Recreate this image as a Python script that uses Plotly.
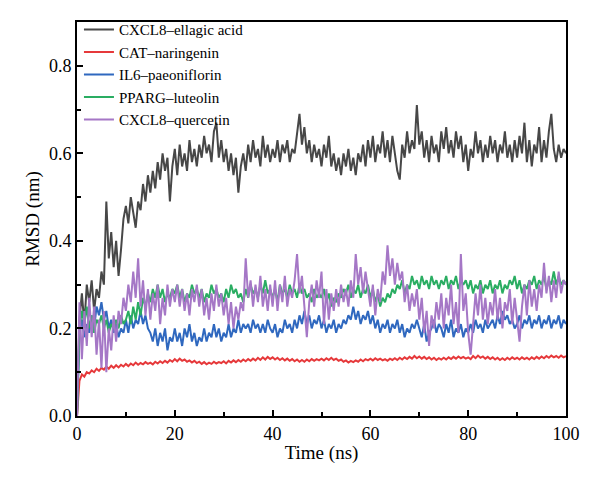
import plotly.graph_objects as go

# Time axis (ns), sampled every 0.5 ns
time_ns = [i * 0.5 for i in range(201)]

cxcl8_ellagic = [
    0.0, 0.22, 0.28, 0.21, 0.30, 0.26, 0.31, 0.24, 0.29, 0.27,
    0.33, 0.30, 0.49, 0.36, 0.42, 0.34, 0.40, 0.32, 0.38, 0.45,
    0.48, 0.44, 0.50, 0.46, 0.43, 0.49, 0.47, 0.53, 0.49, 0.55,
    0.51, 0.56, 0.52, 0.58, 0.54, 0.60, 0.56, 0.59, 0.49, 0.57,
    0.61, 0.55, 0.62, 0.57, 0.60, 0.56, 0.63, 0.58, 0.61, 0.57,
    0.62, 0.59, 0.64, 0.60, 0.62, 0.58, 0.65, 0.67, 0.59, 0.63,
    0.58, 0.61, 0.56, 0.60, 0.55, 0.59, 0.51, 0.57, 0.60, 0.56,
    0.62, 0.58, 0.63, 0.59, 0.61, 0.57, 0.64, 0.59, 0.62, 0.58,
    0.61, 0.59, 0.63, 0.58, 0.62, 0.60, 0.63, 0.58, 0.61, 0.60,
    0.64, 0.69, 0.62, 0.66, 0.60, 0.63, 0.58, 0.62, 0.59, 0.61,
    0.57, 0.62, 0.59, 0.64, 0.57, 0.60, 0.56, 0.59, 0.55, 0.60,
    0.57, 0.61, 0.56, 0.59, 0.55, 0.60, 0.58, 0.62, 0.57, 0.63,
    0.59, 0.64, 0.58, 0.62, 0.60, 0.65, 0.59, 0.63, 0.58, 0.64,
    0.60, 0.56, 0.54, 0.62, 0.59, 0.65, 0.60, 0.63, 0.61, 0.71,
    0.62, 0.65, 0.59, 0.63, 0.58, 0.64, 0.60, 0.62, 0.58, 0.65,
    0.61, 0.66, 0.60, 0.63, 0.59, 0.65, 0.61, 0.64, 0.58, 0.62,
    0.56, 0.61, 0.59, 0.65, 0.60, 0.63, 0.58, 0.62, 0.59, 0.64,
    0.60, 0.63, 0.58, 0.62, 0.60, 0.65, 0.59, 0.62, 0.58, 0.63,
    0.59, 0.64, 0.60, 0.67, 0.58, 0.63, 0.57, 0.62, 0.60, 0.66,
    0.58, 0.63, 0.59, 0.65, 0.69, 0.61, 0.58, 0.62, 0.59, 0.61,
    0.60,
]

cat_naringenin = [
    0.0, 0.08, 0.095, 0.09, 0.10, 0.097, 0.104, 0.10, 0.108, 0.103,
    0.11, 0.106, 0.113, 0.108, 0.115, 0.11, 0.116, 0.111, 0.117, 0.113,
    0.119, 0.114, 0.12, 0.116, 0.122, 0.117, 0.121, 0.118, 0.123, 0.119,
    0.122, 0.118, 0.124, 0.12, 0.125, 0.121, 0.126, 0.122, 0.128, 0.124,
    0.13, 0.125, 0.131, 0.126, 0.129, 0.124, 0.127, 0.122, 0.126, 0.121,
    0.124, 0.119, 0.123, 0.118, 0.122, 0.119, 0.124, 0.12, 0.123, 0.121,
    0.125, 0.12, 0.126, 0.122, 0.127, 0.123, 0.128, 0.124, 0.129, 0.125,
    0.13, 0.126, 0.131, 0.127, 0.133, 0.128, 0.134, 0.129, 0.135, 0.13,
    0.134, 0.129, 0.133, 0.128, 0.132, 0.127, 0.131, 0.126, 0.13, 0.125,
    0.129, 0.124, 0.128, 0.124, 0.129, 0.125, 0.13, 0.126, 0.13, 0.127,
    0.131, 0.127, 0.132, 0.128, 0.133, 0.128, 0.131, 0.126, 0.129, 0.124,
    0.127, 0.122, 0.126, 0.123, 0.127, 0.124, 0.129, 0.125, 0.13, 0.127,
    0.131, 0.127, 0.132, 0.128, 0.131, 0.127, 0.13, 0.126, 0.131, 0.128,
    0.132, 0.128, 0.133, 0.129, 0.134, 0.13, 0.135, 0.131, 0.137, 0.132,
    0.136, 0.131, 0.135, 0.13, 0.134, 0.129, 0.133, 0.128, 0.132, 0.129,
    0.133, 0.129, 0.134, 0.13, 0.135, 0.131, 0.136, 0.132, 0.135, 0.131,
    0.134, 0.13, 0.137, 0.132, 0.138, 0.133, 0.136, 0.131, 0.135, 0.13,
    0.134, 0.129, 0.133, 0.128, 0.132, 0.128, 0.133, 0.129, 0.134, 0.13,
    0.133, 0.129, 0.134, 0.13, 0.133, 0.129, 0.134, 0.13, 0.135, 0.131,
    0.136, 0.132, 0.137, 0.133, 0.138, 0.134, 0.137, 0.133, 0.138, 0.134,
    0.137,
]

il6_paeoniflorin = [
    0.0, 0.19, 0.22, 0.18, 0.21, 0.19, 0.23, 0.2, 0.25, 0.23,
    0.26, 0.22, 0.24, 0.2, 0.22, 0.19, 0.21, 0.18, 0.2, 0.19,
    0.22, 0.19, 0.23, 0.2, 0.22, 0.21, 0.24, 0.21, 0.23, 0.2,
    0.19, 0.17, 0.2, 0.16, 0.19, 0.17, 0.2, 0.15, 0.18, 0.17,
    0.2, 0.17, 0.19, 0.16, 0.2, 0.18, 0.21, 0.17, 0.19, 0.16,
    0.18, 0.17, 0.2, 0.17, 0.19, 0.18, 0.21, 0.18, 0.2, 0.17,
    0.19, 0.18, 0.21, 0.18, 0.2, 0.19, 0.22, 0.19, 0.21, 0.2,
    0.21, 0.19, 0.22, 0.2, 0.21, 0.19, 0.21, 0.19, 0.22, 0.2,
    0.19, 0.21, 0.18, 0.2, 0.19, 0.22, 0.2, 0.21, 0.19, 0.22,
    0.2, 0.23, 0.21, 0.24, 0.21, 0.23, 0.2, 0.22, 0.21, 0.23,
    0.2, 0.22, 0.19, 0.21, 0.2, 0.22, 0.19, 0.21, 0.2, 0.22,
    0.21, 0.23, 0.22, 0.25, 0.22, 0.24, 0.21, 0.23, 0.22, 0.24,
    0.21, 0.23, 0.2, 0.22, 0.19, 0.21, 0.2, 0.22, 0.19, 0.21,
    0.2, 0.22, 0.19, 0.21, 0.18, 0.2, 0.19, 0.21, 0.2, 0.22,
    0.2, 0.18, 0.21, 0.17, 0.19, 0.2, 0.22, 0.19, 0.21, 0.2,
    0.18, 0.21, 0.19, 0.22, 0.18, 0.2, 0.19, 0.21, 0.18, 0.2,
    0.19, 0.21, 0.19, 0.22, 0.2, 0.21, 0.19, 0.22, 0.2, 0.21,
    0.22, 0.2, 0.23, 0.21, 0.24, 0.22, 0.23, 0.21, 0.22, 0.2,
    0.21, 0.23, 0.2, 0.22, 0.21, 0.23, 0.2, 0.22, 0.21, 0.23,
    0.2, 0.22, 0.21, 0.23, 0.2, 0.22, 0.21, 0.23, 0.2, 0.22,
    0.21,
]

pparg_luteolin = [
    0.0, 0.2, 0.24, 0.21, 0.25, 0.2, 0.23, 0.19, 0.22, 0.21,
    0.23, 0.2, 0.22, 0.19, 0.21, 0.2, 0.22, 0.2, 0.23, 0.21,
    0.22, 0.24, 0.21, 0.25, 0.22, 0.26, 0.23, 0.27, 0.25, 0.28,
    0.26, 0.29, 0.27, 0.3, 0.27, 0.29, 0.26, 0.28, 0.27, 0.29,
    0.28, 0.3, 0.27, 0.29, 0.26, 0.28, 0.27, 0.3, 0.28, 0.29,
    0.27, 0.29, 0.26, 0.28, 0.27, 0.3, 0.28, 0.29, 0.27, 0.28,
    0.26, 0.29, 0.27, 0.3, 0.28, 0.29, 0.27, 0.28, 0.26, 0.29,
    0.27, 0.3, 0.28, 0.29, 0.27, 0.3, 0.28, 0.31, 0.28, 0.29,
    0.27, 0.29, 0.26, 0.3, 0.28, 0.29, 0.27, 0.3, 0.28, 0.29,
    0.27, 0.3, 0.28, 0.29, 0.27, 0.28, 0.26, 0.29, 0.27, 0.28,
    0.27, 0.29, 0.26, 0.28, 0.25, 0.27, 0.26, 0.28, 0.27, 0.29,
    0.28, 0.3, 0.27, 0.29, 0.28, 0.3, 0.27, 0.29, 0.28, 0.3,
    0.27, 0.29, 0.26, 0.28, 0.25, 0.27, 0.26, 0.28, 0.27, 0.29,
    0.28, 0.3, 0.29, 0.31, 0.28, 0.3, 0.29, 0.32, 0.3, 0.31,
    0.29, 0.32, 0.3, 0.31, 0.29, 0.32, 0.3, 0.31, 0.29, 0.31,
    0.3, 0.32, 0.29, 0.31, 0.3, 0.32, 0.29, 0.31, 0.3, 0.31,
    0.29, 0.31, 0.28, 0.3, 0.29, 0.31, 0.28, 0.3, 0.29, 0.31,
    0.28, 0.3, 0.29, 0.31, 0.28, 0.3, 0.29, 0.31, 0.3, 0.32,
    0.29, 0.31, 0.28, 0.3, 0.29, 0.31, 0.3, 0.32, 0.29, 0.31,
    0.3, 0.32, 0.29, 0.31, 0.3, 0.33, 0.3, 0.32, 0.3, 0.31,
    0.3,
]

cxcl8_quercetin = [
    0.0, 0.26, 0.13, 0.24, 0.16, 0.27, 0.18, 0.25, 0.14, 0.22,
    0.11, 0.24, 0.1, 0.2, 0.15, 0.23, 0.17, 0.24, 0.21, 0.27,
    0.24, 0.3, 0.26, 0.33, 0.27, 0.36, 0.25, 0.31, 0.23, 0.29,
    0.22, 0.28, 0.24, 0.3, 0.21, 0.27, 0.23, 0.3, 0.25, 0.29,
    0.26, 0.3, 0.25, 0.29, 0.24, 0.28, 0.23, 0.29, 0.26, 0.3,
    0.25, 0.29, 0.23, 0.27, 0.22, 0.28, 0.24, 0.3, 0.25, 0.28,
    0.23, 0.27, 0.21, 0.26, 0.2, 0.25, 0.22, 0.26, 0.24, 0.36,
    0.27, 0.31, 0.25, 0.3, 0.26, 0.32, 0.25, 0.29, 0.24, 0.3,
    0.25, 0.31, 0.24, 0.3, 0.26, 0.32, 0.25, 0.29, 0.27, 0.31,
    0.37, 0.28, 0.32, 0.24, 0.18, 0.26, 0.3, 0.25, 0.31, 0.27,
    0.33, 0.21, 0.29, 0.22, 0.28, 0.24, 0.29, 0.25, 0.3, 0.26,
    0.29, 0.25, 0.31, 0.27, 0.37, 0.3, 0.34, 0.28, 0.33, 0.29,
    0.25, 0.3, 0.23, 0.29, 0.26, 0.33, 0.3, 0.39, 0.32, 0.36,
    0.3, 0.35, 0.31, 0.33, 0.26, 0.3, 0.24, 0.28, 0.25, 0.29,
    0.22, 0.27, 0.19, 0.24, 0.16, 0.23, 0.2, 0.26, 0.22, 0.28,
    0.2, 0.27, 0.23, 0.3, 0.21, 0.26, 0.19, 0.37, 0.24, 0.28,
    0.19, 0.14, 0.22, 0.28, 0.23, 0.3, 0.22, 0.27, 0.21, 0.26,
    0.23, 0.29, 0.22, 0.27, 0.2, 0.26, 0.24, 0.29, 0.21, 0.27,
    0.22, 0.17, 0.25, 0.3, 0.23, 0.31, 0.25, 0.29, 0.24, 0.3,
    0.27, 0.35, 0.28, 0.32, 0.26, 0.31, 0.27, 0.33, 0.28, 0.31,
    0.3,
]

series_names = ["CXCL8–ellagic acid", "CAT–naringenin", "IL6–paeoniflorin",
                "PPARG–luteolin", "CXCL8–quercetin"]
series_values = [cxcl8_ellagic, cat_naringenin, il6_paeoniflorin,
                 pparg_luteolin, cxcl8_quercetin]
series_colors = ["#474747", "#e6393b", "#2f68bf", "#2aad62", "#a577c6"]

x_tick_vals = [0, 20, 40, 60, 80, 100]
y_tick_vals = [0.0, 0.2, 0.4, 0.6, 0.8]

FONT = "Liberation Serif"

fig = go.Figure()
for name, vals, col in zip(series_names, series_values, series_colors):
    fig.add_trace(go.Scatter(x=time_ns, y=vals, mode="lines", name=name,
                             line=dict(color=col, width=2)))

axis_common = dict(
    showline=True, linecolor="black", linewidth=2, mirror=True,
    ticks="inside", ticklen=6, tickwidth=2, tickcolor="black",
    showgrid=False, zeroline=False,
    tickfont=dict(family=FONT, size=18, color="black"),
)

fig.update_xaxes(range=[0, 100], tickvals=x_tick_vals,
                 minor=dict(ticks="inside", ticklen=4, tickwidth=1.5, dtick=10, tick0=0, tickcolor="black"),
                 title=dict(text="Time (ns)", font=dict(family=FONT, size=19, color="black"), standoff=3),
                 **axis_common)
fig.update_yaxes(range=[0, 0.9], tickvals=y_tick_vals, tickformat=".1f",
                 minor=dict(ticks="inside", ticklen=4, tickwidth=1.5, dtick=0.1, tick0=0, tickcolor="black"),
                 title=dict(text="RMSD (nm)", font=dict(family=FONT, size=19, color="black"), standoff=4),
                 **axis_common)

fig.update_layout(
    width=600, height=481,
    margin=dict(l=77, r=34, t=22, b=65),
    paper_bgcolor="white", plot_bgcolor="white",
    font=dict(family=FONT, color="black"),
    legend=dict(x=0.004, y=1.022, xanchor="left", yanchor="top",
                bgcolor="rgba(0,0,0,0)", font=dict(family=FONT, size=15, color="black"),
                tracegroupgap=0),
    showlegend=True,
)

fig.write_html("out.html")
